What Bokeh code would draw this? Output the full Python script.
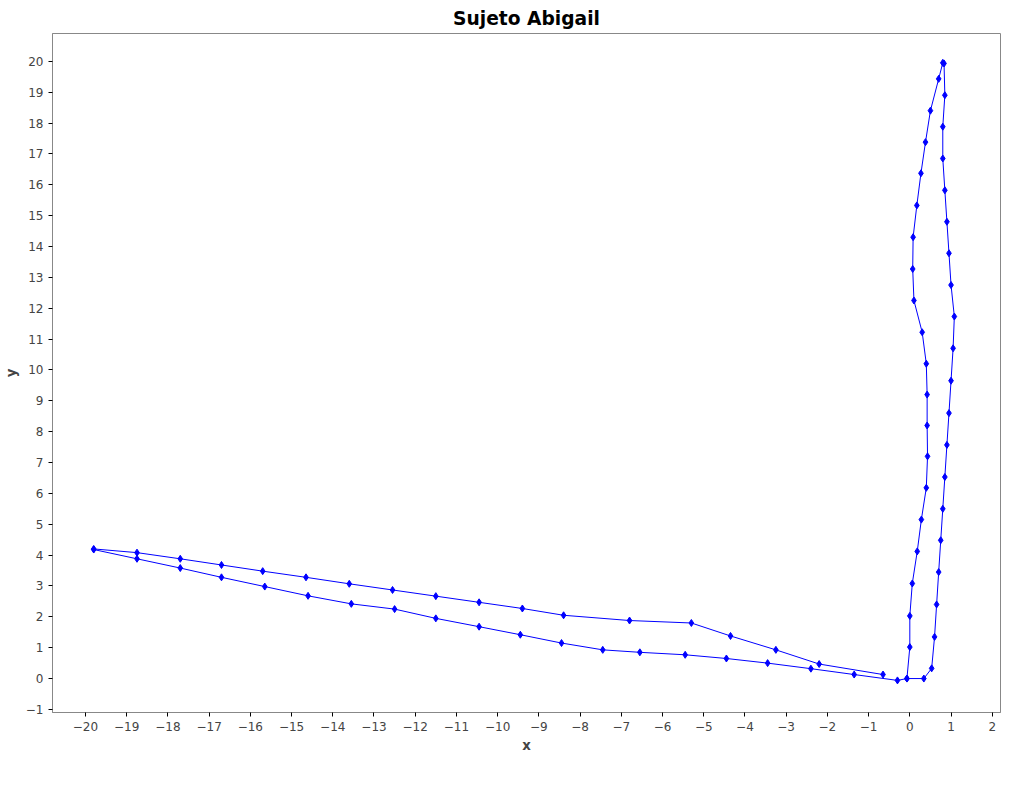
from bokeh.plotting import figure
from bokeh.embed import file_html
from bokeh.resources import INLINE
from bokeh.models import Legend, LegendItem, FixedTicker, Range1d

upper_x = [-0.65, -2.2, -3.25, -4.35, -5.3, -6.8, -8.4, -9.4, -10.45, -11.5, -12.55, -13.6, -14.65, -15.7, -16.7, -17.7, -18.75, -19.8]
upper_y = [0.13, 0.47, 0.93, 1.38, 1.8, 1.88, 2.05, 2.27, 2.47, 2.67, 2.87, 3.07, 3.28, 3.48, 3.68, 3.88, 4.08, 4.2]
lower_x = [-19.8, -18.75, -17.7, -16.7, -15.65, -14.6, -13.55, -12.5, -11.5, -10.45, -9.45, -8.45, -7.45, -6.55, -5.45, -4.45, -3.45, -2.4, -1.35, -0.3]
lower_y = [4.18, 3.88, 3.58, 3.28, 2.98, 2.68, 2.42, 2.25, 1.95, 1.68, 1.42, 1.15, 0.93, 0.85, 0.77, 0.65, 0.5, 0.32, 0.13, -0.06]
right_x = [-0.07, 0.34, 0.53, 0.6, 0.65, 0.7, 0.75, 0.8, 0.85, 0.9, 0.95, 1.0, 1.05, 1.08, 1.0, 0.95, 0.9, 0.85, 0.8, 0.8, 0.85, 0.83, 0.8]
right_y = [0.0, 0.0, 0.33, 1.35, 2.4, 3.45, 4.48, 5.5, 6.53, 7.57, 8.6, 9.65, 10.7, 11.73, 12.75, 13.78, 14.8, 15.82, 16.85, 17.88, 18.9, 19.93, 19.95]
left_x = [0.7, 0.5, 0.38, 0.27, 0.17, 0.08, 0.07, 0.1, 0.3, 0.4, 0.42, 0.42, 0.43, 0.4, 0.28, 0.18, 0.06, 0.0, 0.0, -0.07]
left_y = [19.43, 18.4, 17.38, 16.37, 15.33, 14.3, 13.27, 12.25, 11.22, 10.2, 9.2, 8.2, 7.2, 6.18, 5.15, 4.12, 3.08, 2.03, 1.02, 0.0]

xs = upper_x + lower_x + right_x + left_x
ys = upper_y + lower_y + right_y + left_y

p = figure(width=1008, height=784, output_backend="svg", toolbar_location=None,
           title="Sujeto Abigail", x_range=Range1d(-20.8, 2.2), y_range=Range1d(-1.1, 20.9),
           x_axis_label="x", y_axis_label="y")
p.title.align = "center"
p.title.text_font = "DejaVu Sans"
p.title.text_font_size = "14pt"
p.title.text_font_style = "bold"
p.title.text_color = "black"
p.xgrid.visible = False
p.ygrid.visible = False
p.outline_line_color = "#888888"
p.min_border_left = 45
p.min_border_right = 8
p.min_border_bottom = 72
for ax in (p.xaxis[0], p.yaxis[0]):
    ax.axis_label_text_font = "DejaVu Sans"
    ax.axis_label_text_font_style = "bold"
    ax.axis_label_text_font_size = "10pt"
    ax.axis_label_text_color = "#444444"
    ax.axis_label_standoff = 4
    ax.major_label_text_font = "DejaVu Sans"
    ax.major_label_text_font_size = "9pt"
    ax.major_label_text_color = "#444444"
    ax.minor_tick_line_color = None
    ax.axis_line_color = "#888888"
    ax.major_tick_out = 4
    ax.major_tick_in = 0
p.xaxis.ticker = FixedTicker(ticks=list(range(-20, 3)))
p.yaxis.ticker = FixedTicker(ticks=list(range(-1, 21)))

r1 = p.line(xs, ys, line_color="blue", line_width=1)
r2 = p.scatter(xs, ys, marker="diamond", size=7, color="blue")
leg = Legend(items=[LegendItem(label="Prueba 0", renderers=[r1, r2])], location=(418, -75),
             orientation="horizontal", border_line_color="black", label_text_font="DejaVu Sans",
             label_text_font_size="9pt", padding=2, margin=0, glyph_width=18, glyph_height=14,
             label_height=14, spacing=2)
p.add_layout(leg, "center")

open("out.html", "w").write(file_html(p, INLINE))
